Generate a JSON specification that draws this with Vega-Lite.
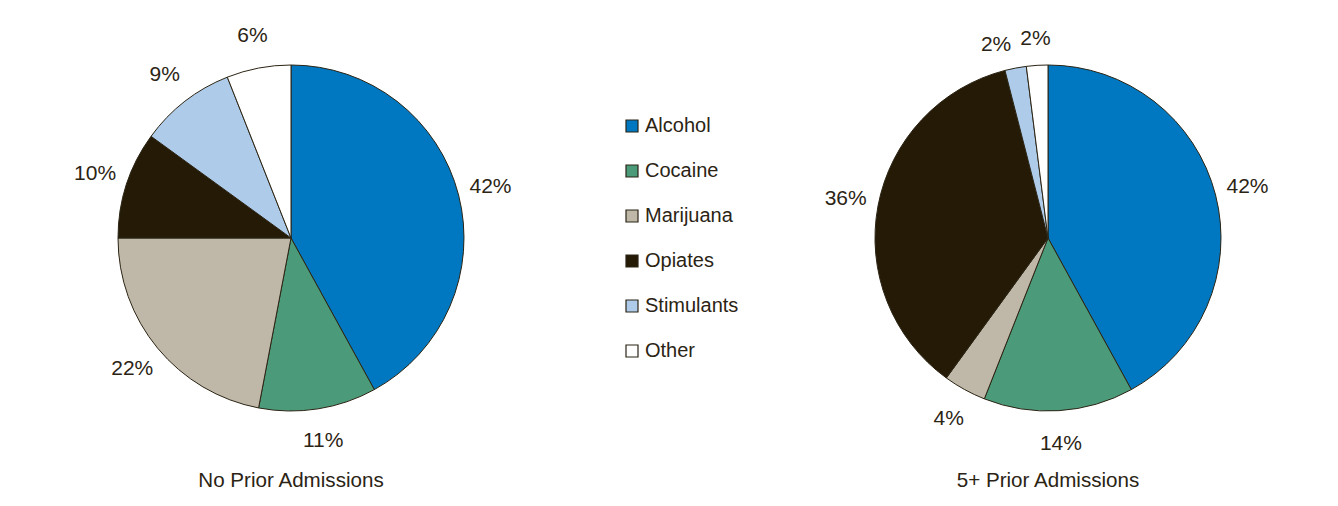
{
  "$schema": "https://vega.github.io/schema/vega-lite/v6.json",
  "background": "white",
  "padding": {"left": 10, "top": 8, "right": 0, "bottom": 0},
  "data": {"values": [
    {"group": "No Prior Admissions", "category": "Alcohol", "order": 1, "value": 42, "label": "42%"},
    {"group": "No Prior Admissions", "category": "Cocaine", "order": 2, "value": 11, "label": "11%"},
    {"group": "No Prior Admissions", "category": "Marijuana", "order": 3, "value": 22, "label": "22%"},
    {"group": "No Prior Admissions", "category": "Opiates", "order": 4, "value": 10, "label": "10%"},
    {"group": "No Prior Admissions", "category": "Stimulants", "order": 5, "value": 9, "label": "9%"},
    {"group": "No Prior Admissions", "category": "Other", "order": 6, "value": 6, "label": "6%"},
    {"group": "5+ Prior Admissions", "category": "Alcohol", "order": 1, "value": 42, "label": "42%"},
    {"group": "5+ Prior Admissions", "category": "Cocaine", "order": 2, "value": 14, "label": "14%"},
    {"group": "5+ Prior Admissions", "category": "Marijuana", "order": 3, "value": 4, "label": "4%"},
    {"group": "5+ Prior Admissions", "category": "Opiates", "order": 4, "value": 36, "label": "36%"},
    {"group": "5+ Prior Admissions", "category": "Stimulants", "order": 5, "value": 2, "label": "2%"},
    {"group": "5+ Prior Admissions", "category": "Other", "order": 6, "value": 2, "label": "2%"}
  ]},
  "facet": {
    "column": {
      "field": "group", "type": "nominal",
      "sort": ["No Prior Admissions", "5+ Prior Admissions"],
      "header": {"labelOrient": "bottom", "title": null, "labelFontSize": 20.6, "labelFont": "Liberation Sans", "labelColor": "#2b2414", "labelPadding": 3}
    }
  },
  "spacing": 195,
  "spec": {
    "width": 562,
    "height": 460,
    "encoding": {
      "theta": {"field": "value", "type": "quantitative", "stack": true, "scale": {"domain": [0, 100]}},
      "order": {"field": "order", "type": "quantitative"}
    },
    "layer": [
      {
        "mark": {"type": "arc", "outerRadius": 173, "stroke": "#2b2414", "strokeWidth": 1},
        "encoding": {
          "color": {
            "field": "category", "type": "nominal",
            "scale": {
              "domain": ["Alcohol", "Cocaine", "Marijuana", "Opiates", "Stimulants", "Other"],
              "range": ["#0078c1", "#4b9b7a", "#bfb8a9", "#241a06", "#aecbea", "#ffffff"]
            },
            "legend": {
              "title": null, "orient": "none", "legendX": 612, "legendY": 108,
              "symbolType": "square", "symbolSize": 144, "symbolStrokeColor": "#2b2414", "symbolStrokeWidth": 1.2,
              "labelFontSize": 20, "labelFont": "Liberation Sans", "labelColor": "#2b2414", "labelOffset": 3,
              "rowPadding": 25, "padding": 0
            }
          }
        }
      },
      {
        "mark": {"type": "text", "radius": 206, "fontSize": 21, "font": "Liberation Sans", "color": "#2b2414"},
        "encoding": {
          "detail": {"field": "category", "type": "nominal"},
          "text": {"condition": {"test": "datum.value >= 3", "field": "label"}, "value": ""}
        }
      },
      {
        "mark": {"type": "text", "radius": 196, "align": "right", "fontSize": 21, "font": "Liberation Sans", "color": "#2b2414"},
        "encoding": {
          "detail": {"field": "category", "type": "nominal"},
          "text": {"condition": {"test": "datum.value < 3 && datum.value_start + datum.value_end < 196", "field": "label"}, "value": ""}
        }
      },
      {
        "mark": {"type": "text", "radius": 199, "fontSize": 21, "font": "Liberation Sans", "color": "#2b2414"},
        "encoding": {
          "detail": {"field": "category", "type": "nominal"},
          "text": {"condition": {"test": "datum.value < 3 && datum.value_start + datum.value_end >= 196", "field": "label"}, "value": ""}
        }
      }
    ]
  },
  "config": {"view": {"stroke": null}}
}
